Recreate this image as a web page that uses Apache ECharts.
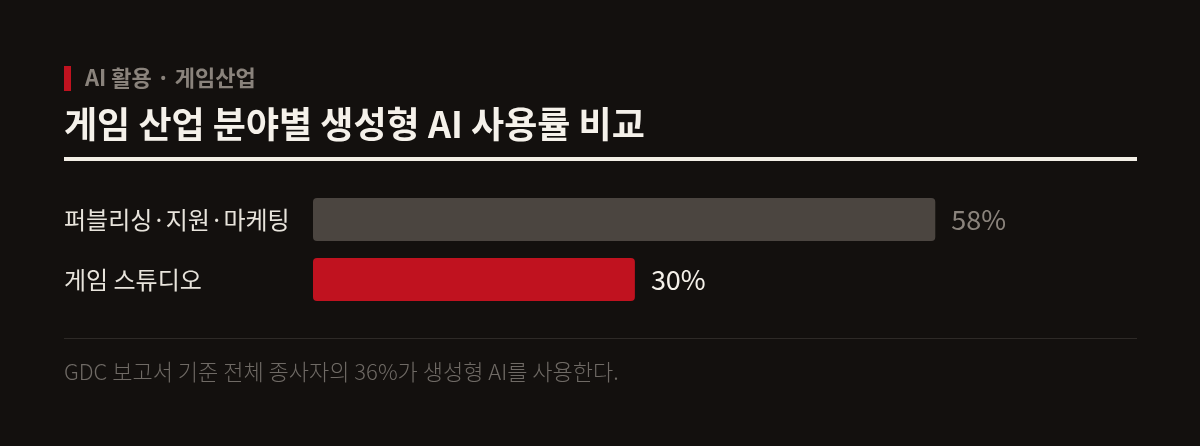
<!DOCTYPE html>
<html>
<head>
<meta charset="utf-8">
<script src="https://cdn.jsdelivr.net/npm/echarts@6/dist/echarts.min.js"></script>
<style>
  html, body { margin: 0; padding: 0; background: #13100e; }
  #chart { width: 1200px; height: 446px; }
</style>
</head>
<body>
<div id="chart"></div>
<script>
const categories = ['퍼블리싱·지원·마케팅', '게임 스튜디오'];
const values = [58, 30];
const barColors = ['#4b4540', '#c0121f'];
const labelColors = ['#8a837c', '#f5f1ea'];

const kicker = 'AI 활용 · 게임산업';
const title = '게임 산업 분야별 생성형 AI 사용률 비교';
const note = 'GDC 보고서 기준 전체 종사자의 36%가 생성형 AI를 사용한다.';

const font = "'Noto Sans CJK KR', 'Noto Sans', sans-serif";

const initChart = () => {
    const chart = echarts.init(document.getElementById('chart'));

    chart.setOption({
        backgroundColor: '#13100e',
        animation: false,
        grid: { left: 313, right: 63, top: 189.5, height: 120 },
        xAxis: {
            type: 'value',
            min: 0,
            max: 76.8,
            show: false
        },
        yAxis: {
            type: 'category',
            data: categories,
            inverse: true,
            axisLine: { show: false },
            axisTick: { show: false },
            axisLabel: {
                align: 'left',
                margin: 249,
                color: '#e8e4dc',
                fontSize: 24,
                fontFamily: font
            }
        },
        series: [{
            type: 'bar',
            barWidth: 43,
            data: values.map((v, i) => ({
                value: v,
                itemStyle: { color: barColors[i], borderRadius: 4 },
                label: { color: labelColors[i] }
            })),
            label: {
                show: true,
                position: 'right',
                distance: 16,
                formatter: '{c}%',
                fontSize: 27,
                fontFamily: font
            }
        }],
        graphic: [
            // 빨간 표시 막대
            { type: 'rect', shape: { x: 64, y: 66, width: 7, height: 25 }, style: { fill: '#c0121f' } },
            {
                type: 'text', x: 85, y: 78,
                style: { text: kicker, fill: '#8a837c', font: `bold 22px ${font}`, verticalAlign: 'middle' }
            },
            {
                type: 'text', x: 64, y: 124,
                style: { text: title, fill: '#f5f1ea', font: `bold 36px ${font}`, verticalAlign: 'middle' }
            },
            { type: 'rect', shape: { x: 64, y: 157, width: 1073, height: 4 }, style: { fill: '#f3efe6' } },
            { type: 'rect', shape: { x: 64, y: 338, width: 1073, height: 1 }, style: { fill: '#2e2a27' } },
            {
                type: 'text', x: 64, y: 372,
                style: { text: note, fill: '#6f6a65', font: `300 22px ${font}`, verticalAlign: 'middle' }
            }
        ]
    });
};

window.addEventListener('load', () => {
    initChart();
});
</script>
</body>
</html>
